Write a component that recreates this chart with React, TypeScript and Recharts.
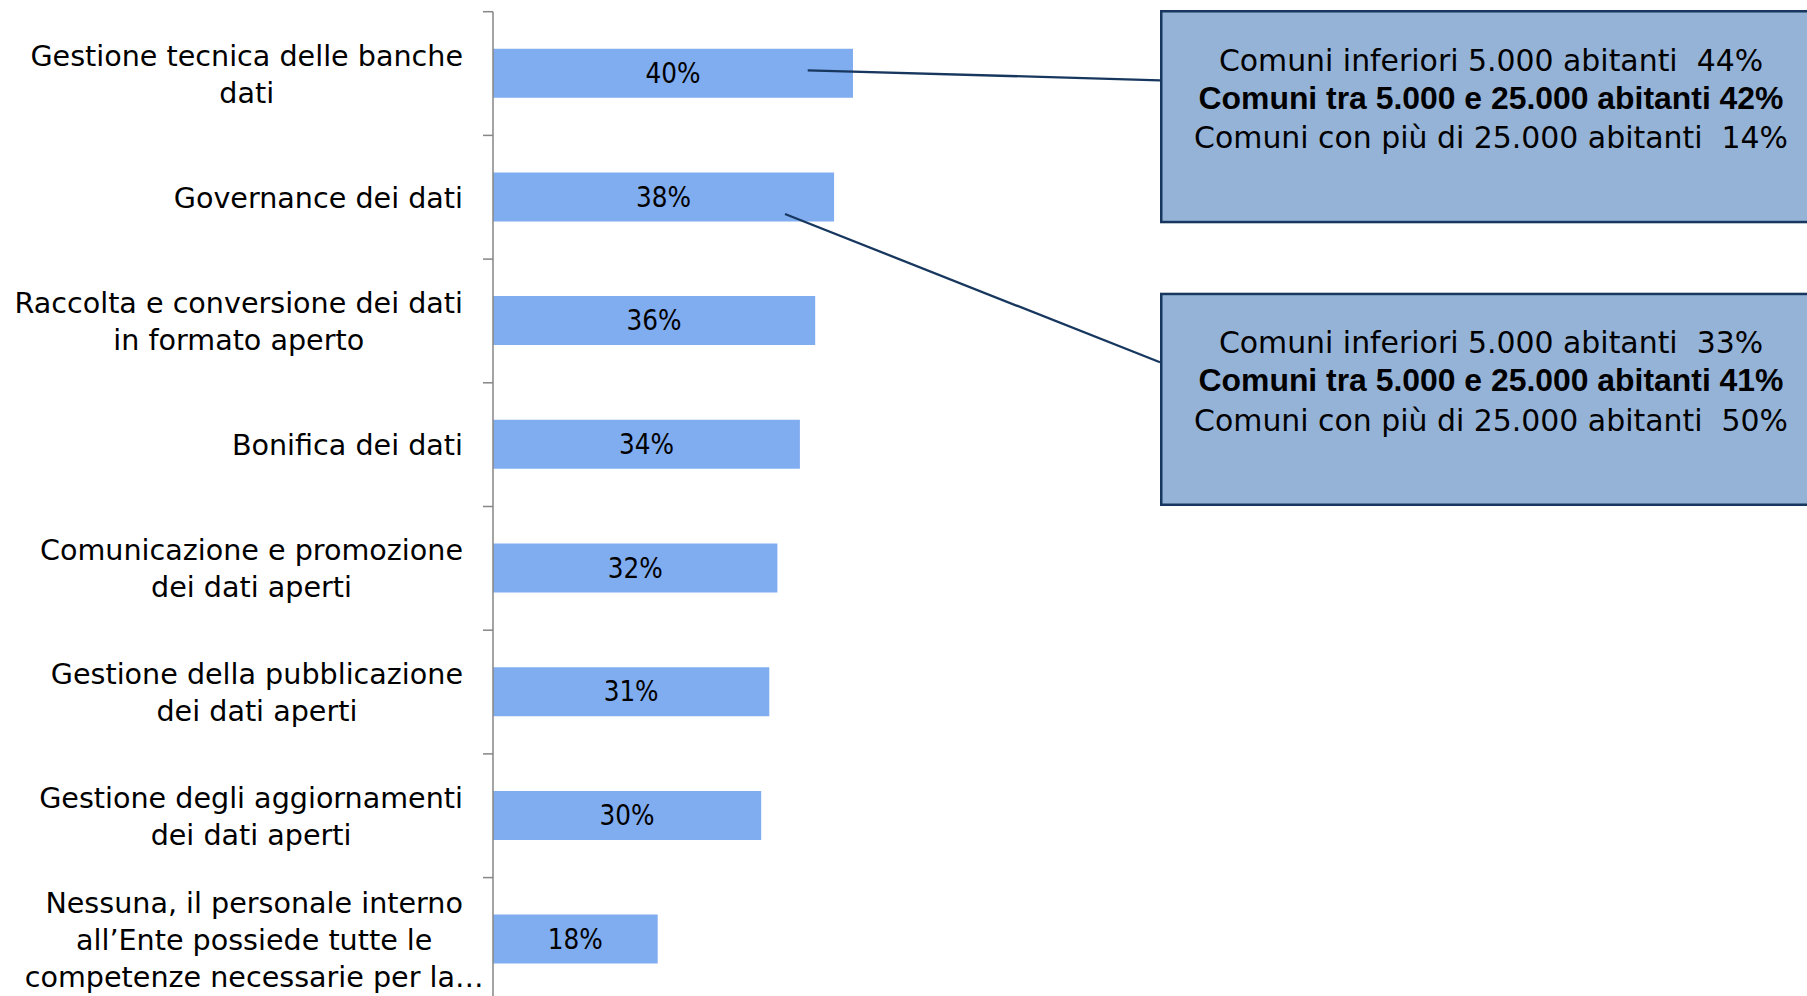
import React from 'react';
import { BarChart, Bar, XAxis, YAxis, LabelList } from 'recharts';

// ---------- data ----------
const categories = [
  'Gestione tecnica delle banche\ndati',
  'Governance dei dati',
  'Raccolta e conversione dei dati\nin formato aperto',
  'Bonifica dei dati',
  'Comunicazione e promozione\ndei dati aperti',
  'Gestione della pubblicazione\ndei dati aperti',
  'Gestione degli aggiornamenti\ndei dati aperti',
  'Nessuna, il personale interno\nall\u2019Ente possiede tutte le\ncompetenze necessarie per la\u2026',
];
// shares (%); labels show them rounded
const values = [40.0, 37.9, 35.8, 34.1, 31.6, 30.7, 29.8, 18.3];

const calloutGroups = [
  'Comuni inferiori 5.000 abitanti',
  'Comuni tra 5.000 e 25.000 abitanti',
  'Comuni con più di 25.000 abitanti',
];
const calloutGestioneTecnica = [44, 42, 14];
const calloutGovernance = [33, 41, 50];

// ---------- layout ----------
const W = 1807;
const H = 996;
const CHART_H = 1002;
const M_TOP = 11.7;
const M_BOTTOM = 0.7;
const AXIS_X = 493;
const M_RIGHT = 414;
const PLOT_H = CHART_H - M_TOP - M_BOTTOM;
const BAND = PLOT_H / categories.length;

const LABEL_FONT = '"DejaVu Sans", sans-serif';
const LABEL_SIZE = 28.6;
const LINE_H = 37;

const data = categories.map((name, i) => ({ name, value: values[i] }));

let measureCtx: CanvasRenderingContext2D | null = null;
function measure(text: string, font: string): number {
  if (!measureCtx) measureCtx = document.createElement('canvas').getContext('2d');
  if (!measureCtx) return text.length * 15;
  measureCtx.font = font;
  return measureCtx.measureText(text).width;
}

function CategoryTick(props: any) {
  const { y, payload } = props;
  const lines = String(payload.value).split('\n');
  const font = `${LABEL_SIZE}px "DejaVu Sans"`;
  const widths = lines.map((l) => measure(l, font));
  const refW = widths.filter((_, i) => !lines[i].endsWith('\u2026'));
  const maxW = Math.max(...(refW.length ? refW : widths));
  const right = AXIS_X - 30;
  const cx = right - maxW / 2;
  const top = y - BAND / 2;
  return (
    <g>
      <line x1={AXIS_X - 10} x2={AXIS_X} y1={top} y2={top} stroke="#868686" strokeWidth={1.5} />
      <text textAnchor="middle" fontFamily={LABEL_FONT} fontSize={LABEL_SIZE} fill="#000">
        {lines.map((l, i) => (
          <tspan key={i} x={cx} y={y + (i - (lines.length - 1) / 2) * LINE_H + 10.5}>
            {l}
          </tspan>
        ))}
      </text>
    </g>
  );
}

const callouts = [
  { values: calloutGestioneTecnica, top: 10, from: [807.7, 70.3], to: [1160, 80.3] },
  { values: calloutGovernance, top: 292.7, from: [785, 214], to: [1160, 362.3] },
];
const BOX_LEFT = 1160;
const BOX_H = 213.3;
const BOX_BORDER = 2.5;
const BOX_TEXT_X = 1491;
const BOX_BASELINES = [60.5, 98.5, 138];

function Callouts() {
  return (
    <svg
      width={W}
      height={H}
      style={{ position: 'absolute', left: 0, top: 0, pointerEvents: 'none' }}
    >
      {callouts.map((c, ci) => (
        <g key={ci}>
          <line
            x1={c.from[0]}
            y1={c.from[1]}
            x2={c.to[0]}
            y2={c.to[1]}
            stroke="#17375E"
            strokeWidth={2.3}
          />
          <rect
            x={BOX_LEFT + BOX_BORDER / 2}
            y={c.top + BOX_BORDER / 2}
            width={800}
            height={BOX_H - BOX_BORDER}
            fill="#95B3D7"
            stroke="#17375E"
            strokeWidth={BOX_BORDER}
          />
          {calloutGroups.map((g, gi) => {
            const bold = gi === 1;
            return (
              <text
                key={gi}
                x={BOX_TEXT_X}
                y={c.top + BOX_BASELINES[gi]}
                textAnchor="middle"
                fill="#000"
                fontFamily={bold ? '"Liberation Sans", Arial, sans-serif' : LABEL_FONT}
                fontWeight={bold ? 700 : 400}
                fontSize={bold ? 31.9 : 29.9}
                style={{ whiteSpace: 'pre' }}
                xmlSpace="preserve"
              >
                {`${g}${bold ? ' ' : '  '}${c.values[gi]}%`}
              </text>
            );
          })}
        </g>
      ))}
    </svg>
  );
}

export default function App() {
  return (
    <div
      style={{
        position: 'absolute',
        left: 0,
        top: 0,
        width: W,
        height: H,
        overflow: 'hidden',
        background: '#fff',
      }}
    >
      <BarChart
        width={W}
        height={CHART_H}
        data={data}
        layout="vertical"
        margin={{ top: M_TOP, right: M_RIGHT, bottom: M_BOTTOM, left: 0 }}
      >
        <XAxis type="number" domain={[0, 100]} hide allowDataOverflow />
        <YAxis
          type="category"
          dataKey="name"
          width={AXIS_X}
          axisLine={{ stroke: '#868686', strokeWidth: 1.5 }}
          tickLine={false}
          tickSize={0}
          tickMargin={0}
          tick={<CategoryTick />}
          interval={0}
        />
        <Bar dataKey="value" fill="#80ADF0" barSize={49} isAnimationActive={false}>
          <LabelList
            dataKey="value"
            position="center"
            formatter={(v: any) => `${Math.round(Number(v))}%`}
            fill="#000"
            fontSize={27.5}
            fontFamily='"DejaVu Sans Condensed", "DejaVu Sans", sans-serif'
          />
        </Bar>
      </BarChart>
      <Callouts />
    </div>
  );
}
